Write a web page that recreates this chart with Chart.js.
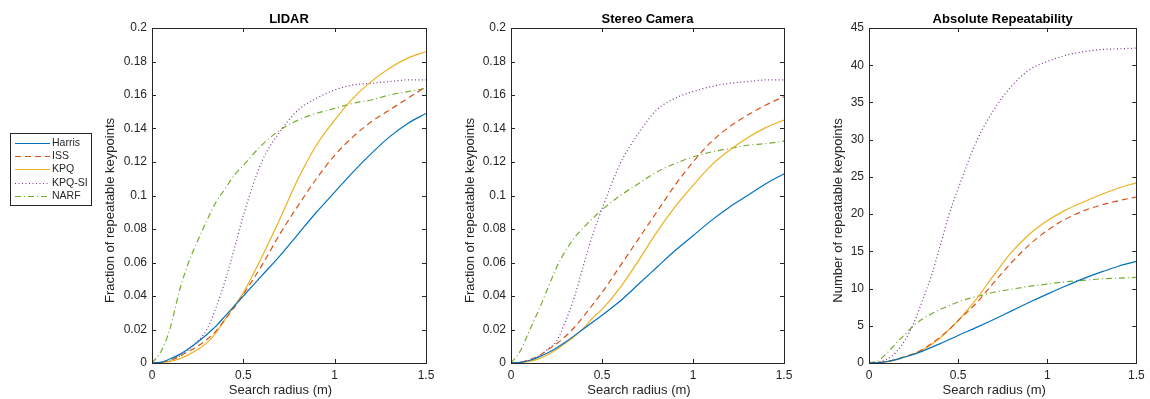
<!DOCTYPE html>
<html>
<head>
<meta charset="utf-8">
<script src="https://cdn.jsdelivr.net/npm/chart.js@4.4.1/dist/chart.umd.min.js"></script>
<style>
    html, body { margin: 0; padding: 0; background: #fff; }
    body { width: 1150px; height: 399px; position: relative; overflow: hidden; }
    .panel { position: absolute; top: 0; height: 399px; }
</style>
</head>
<body>
<div class="panel" style="left:0;width:440px"><canvas id="lidarChart"></canvas></div>
<div class="panel" style="left:440px;width:360px"><canvas id="stereoChart"></canvas></div>
<div class="panel" style="left:800px;width:350px"><canvas id="absChart"></canvas></div>
<script>
// search radius (m), shared by every curve
const radius = [0, 0.05, 0.1, 0.15, 0.2, 0.25, 0.3, 0.35, 0.4, 0.45, 0.5, 0.6, 0.7, 0.8, 0.9, 1.0, 1.1, 1.2, 1.3, 1.4, 1.5];
const methods = ['Harris', 'ISS', 'KPQ', 'KPQ-SI', 'NARF'];

// LIDAR - fraction of repeatable keypoints
const lidarHarris = [0, 0.0005, 0.0025, 0.005, 0.0085, 0.0125, 0.017, 0.022, 0.028, 0.034, 0.040, 0.052, 0.064, 0.077, 0.090, 0.102, 0.114, 0.125, 0.135, 0.143, 0.149];
const lidarISS = [0, 0.0004, 0.0018, 0.004, 0.007, 0.010, 0.014, 0.019, 0.026, 0.033, 0.041, 0.058, 0.077, 0.094, 0.110, 0.124, 0.135, 0.144, 0.151, 0.158, 0.165];
const lidarKPQ = [0, 0.0002, 0.001, 0.0025, 0.005, 0.008, 0.012, 0.018, 0.026, 0.034, 0.042, 0.063, 0.086, 0.110, 0.130, 0.145, 0.158, 0.168, 0.176, 0.182, 0.186];
const lidarKPQSI = [0, 0.0003, 0.0015, 0.004, 0.008, 0.013, 0.020, 0.033, 0.049, 0.068, 0.088, 0.120, 0.138, 0.151, 0.158, 0.163, 0.166, 0.167, 0.168, 0.169, 0.169];
const lidarNARF = [0, 0.007, 0.021, 0.043, 0.060, 0.073, 0.085, 0.096, 0.104, 0.112, 0.118, 0.130, 0.139, 0.145, 0.149, 0.152, 0.155, 0.157, 0.160, 0.162, 0.164];

// Stereo camera - fraction of repeatable keypoints
const stereoHarris = [0, 0.0004, 0.0015, 0.0035, 0.006, 0.009, 0.0125, 0.0165, 0.0205, 0.0245, 0.0285, 0.037, 0.047, 0.057, 0.067, 0.076, 0.085, 0.093, 0.100, 0.107, 0.113];
const stereoISS = [0, 0.0004, 0.002, 0.004, 0.0078, 0.0115, 0.016, 0.0215, 0.028, 0.035, 0.042, 0.058, 0.074, 0.090, 0.106, 0.120, 0.132, 0.141, 0.148, 0.154, 0.159];
const stereoKPQ = [0, 0.0002, 0.001, 0.0025, 0.0048, 0.008, 0.012, 0.016, 0.021, 0.027, 0.032, 0.045, 0.061, 0.078, 0.093, 0.106, 0.118, 0.127, 0.1345, 0.1405, 0.145];
const stereoKPQSI = [0, 0.0003, 0.0015, 0.004, 0.008, 0.013, 0.025, 0.040, 0.059, 0.077, 0.092, 0.119, 0.137, 0.151, 0.158, 0.162, 0.165, 0.167, 0.168, 0.169, 0.169];
const stereoNARF = [0, 0.007, 0.019, 0.031, 0.044, 0.057, 0.067, 0.075, 0.081, 0.0865, 0.0915, 0.100, 0.107, 0.114, 0.119, 0.123, 0.126, 0.128, 0.130, 0.131, 0.1325];

// Absolute repeatability - number of repeatable keypoints
const absHarris = [0, 0.05, 0.2, 0.45, 0.8, 1.15, 1.6, 2.1, 2.6, 3.15, 3.7, 4.75, 5.85, 7.0, 8.15, 9.25, 10.3, 11.3, 12.2, 13.0, 13.65];
const absISS = [0, 0.05, 0.2, 0.45, 0.85, 1.25, 1.8, 2.6, 3.5, 4.5, 5.7, 8.0, 10.8, 13.5, 15.9, 17.8, 19.3, 20.4, 21.2, 21.8, 22.3];
const absKPQ = [0, 0.03, 0.15, 0.4, 0.8, 1.2, 1.75, 2.5, 3.4, 4.5, 5.7, 8.5, 11.8, 14.9, 17.3, 19.1, 20.5, 21.6, 22.6, 23.5, 24.2];
const absKPQSI = [0, 0.1, 0.5, 1.4, 3.0, 5.3, 8.4, 11.7, 15.8, 20.0, 23.4, 29.6, 34.0, 37.2, 39.4, 40.5, 41.3, 41.8, 42.1, 42.2, 42.3];
const absNARF = [0, 0.3, 1.3, 2.6, 3.8, 5.0, 5.9, 6.6, 7.2, 7.7, 8.2, 8.9, 9.5, 9.9, 10.3, 10.6, 10.9, 11.1, 11.3, 11.4, 11.5];

// tick labels
const xTicks = [0, 0.5, 1, 1.5];
const fracTicks = [0, 0.02, 0.04, 0.06, 0.08, 0.1, 0.12, 0.14, 0.16, 0.18, 0.2];
const countTicks = [0, 5, 10, 15, 20, 25, 30, 35, 40, 45];

// line styles (matlab default colours)
const lineColors = ['#0072BD', '#D95319', '#EDB120', '#7E2F8E', '#77AC30'];
const lineDashes = [[], [6, 4], [], [1, 2.5], [6, 3, 1, 3]];
const axisColor = '#262626';
const fontFamily = '"Liberation Sans", Arial, Helvetica, sans-serif';

Chart.defaults.font.family = fontFamily;
Chart.defaults.font.size = 12;
Chart.defaults.color = axisColor;

// box around the plot area + matlab style inward ticks on all four sides
const innerTicks = {
    id: 'innerTicks',
    afterDraw(chart) {
        const { ctx, chartArea: a, scales } = chart;
        const len = 4;
        ctx.save();
        ctx.strokeStyle = axisColor;
        ctx.lineWidth = 1;
        ctx.beginPath();
        scales.x.ticks.forEach(t => {
            const px = Math.round(scales.x.getPixelForValue(t.value)) + 0.5;
            ctx.moveTo(px, a.bottom); ctx.lineTo(px, a.bottom - len);
            ctx.moveTo(px, a.top); ctx.lineTo(px, a.top + len);
        });
        scales.y.ticks.forEach(t => {
            const py = Math.round(scales.y.getPixelForValue(t.value)) + 0.5;
            ctx.moveTo(a.left, py); ctx.lineTo(a.left + len, py);
            ctx.moveTo(a.right, py); ctx.lineTo(a.right - len, py);
        });
        ctx.stroke();
        ctx.strokeRect(Math.round(a.left) + 0.5, Math.round(a.top) + 0.5,
            Math.round(a.right - a.left), Math.round(a.bottom - a.top));
        ctx.restore();
    }
};

// axis labels, placed like matlab does (slightly off centre toward the origin)
const axisLabels = {
    id: 'axisLabels',
    afterDraw(chart, args, opts) {
        const { ctx, chartArea: a } = chart;
        ctx.save();
        ctx.fillStyle = axisColor;
        ctx.font = '13px ' + fontFamily;
        ctx.textAlign = 'center';
        ctx.textBaseline = 'middle';
        ctx.fillText(opts.x, (a.left + a.right) / 2 - 8.5, 390.5);
        ctx.translate(a.left - opts.yGap, (a.top + a.bottom) / 2 + 15);
        ctx.rotate(-Math.PI / 2);
        ctx.fillText(opts.y, 0, 0);
        ctx.restore();
    }
};

// legend box sitting left of the first panel
const sideLegend = {
    id: 'sideLegend',
    afterDraw(chart, args, opts) {
        if (!opts.show) return;
        const ctx = chart.ctx;
        ctx.save();
        ctx.fillStyle = '#fff';
        ctx.fillRect(10, 133, 81, 72);
        ctx.strokeStyle = axisColor;
        ctx.lineWidth = 1;
        ctx.strokeRect(10.5, 133.5, 81, 72);
        ctx.font = '10.5px ' + fontFamily;
        ctx.textBaseline = 'middle';
        chart.data.datasets.forEach((ds, i) => {
            const y = Math.round(143 + i * 13.2) + 0.5;
            ctx.strokeStyle = ds.borderColor;
            ctx.lineWidth = 1.2;
            ctx.setLineDash(ds.borderDash);
            ctx.beginPath();
            ctx.moveTo(15, y);
            ctx.lineTo(50, y);
            ctx.stroke();
            ctx.setLineDash([]);
            ctx.fillStyle = axisColor;
            ctx.fillText(ds.label, 52, y);
        });
        ctx.restore();
    }
};

function buildSeries(values) {
    return values.map((vals, i) => ({
        label: methods[i],
        data: radius.map((r, k) => ({ x: r, y: vals[k] })),
        borderColor: lineColors[i],
        borderDash: lineDashes[i],
        borderWidth: 1.2,
        pointRadius: 0,
        fill: false,
        cubicInterpolationMode: 'monotone'
    }));
}

function createChart(id, cfg) {
    let ctx = document.getElementById(id).getContext('2d');
    return new Chart(ctx, {
        type: 'line',
        data: { datasets: buildSeries(cfg.series) },
        options: {
            responsive: true,
            maintainAspectRatio: false,
            animation: false,
            layout: { autoPadding: false, padding: { left: cfg.padLeft, right: cfg.padRight, top: 0, bottom: 0 } },
            plugins: {
                legend: { display: false },
                tooltip: { enabled: false },
                title: {
                    display: true,
                    text: cfg.title,
                    fullSize: false,
                    color: '#000',
                    font: { size: 13, weight: 'bold' },
                    padding: { top: 11.9, bottom: 0.5 }
                },
                axisLabels: { x: 'Search radius (m)', y: cfg.yLabel, yGap: cfg.yGap },
                sideLegend: { show: !!cfg.legend }
            },
            scales: {
                x: {
                    type: 'linear',
                    min: 0,
                    max: 1.5,
                    grid: { display: false, drawTicks: false },
                    border: { display: false },
                    afterBuildTicks: (scale) => { scale.ticks = xTicks.map(v => ({ value: v })); },
                    afterFit: (scale) => { scale.height = 36; },
                    ticks: { padding: 5.3, autoSkip: false, maxRotation: 0, callback: v => String(v) }
                },
                y: {
                    type: 'linear',
                    min: 0,
                    max: cfg.yMax,
                    grid: { display: false, drawTicks: false },
                    border: { display: false },
                    afterBuildTicks: (scale) => { scale.ticks = cfg.yTicks.map(v => ({ value: v })); },
                    afterFit: (scale) => { scale.width = cfg.yWidth; },
                    ticks: { padding: 5, autoSkip: false, callback: v => String(v) }
                }
            }
        },
        plugins: [innerTicks, axisLabels, sideLegend]
    });
}

document.addEventListener("DOMContentLoaded", function () {
    createChart('lidarChart', {
        title: 'LIDAR', yLabel: 'Fraction of repeatable keypoints', yMax: 0.2, yTicks: fracTicks,
        series: [lidarHarris, lidarISS, lidarKPQ, lidarKPQSI, lidarNARF],
        padLeft: 99, yWidth: 53, padRight: 14, yGap: 41.3, legend: true
    });
    createChart('stereoChart', {
        title: 'Stereo Camera', yLabel: 'Fraction of repeatable keypoints', yMax: 0.2, yTicks: fracTicks,
        series: [stereoHarris, stereoISS, stereoKPQ, stereoKPQSI, stereoNARF],
        padLeft: 18, yWidth: 53, padRight: 16, yGap: 41
    });
    createChart('absChart', {
        title: 'Absolute Repeatability', yLabel: 'Number of repeatable keypoints', yMax: 45, yTicks: countTicks,
        series: [absHarris, absISS, absKPQ, absKPQSI, absNARF],
        padLeft: 26, yWidth: 43, padRight: 7, yGap: 31
    });
});
</script>
</body>
</html>
